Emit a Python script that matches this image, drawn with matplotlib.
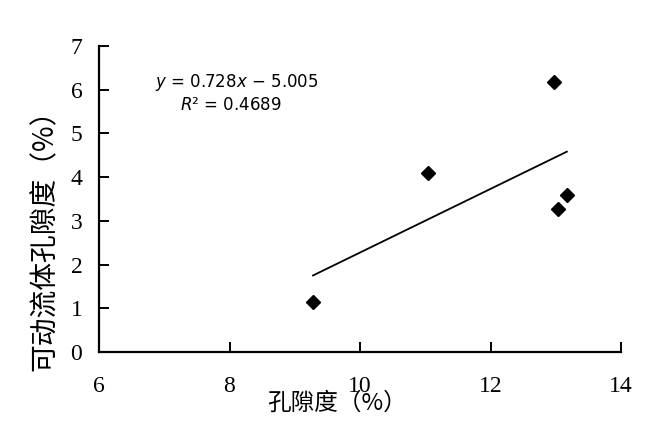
import matplotlib
matplotlib.use('Agg')
import numpy as np
import matplotlib.pyplot as plt

plt.rcParams['font.family'] = ['Liberation Serif', 'Noto Sans CJK SC']

# data
porosity = [9.28, 11.04, 12.98, 13.04, 13.17]
movable = [1.15, 4.10, 6.18, 3.27, 3.60]
slope = 0.728
intercept = -5.005
r2 = 0.4689
x_ticks = [6, 8, 10, 12, 14]
y_ticks = [0, 1, 2, 3, 4, 5, 6, 7]

fig = plt.figure(figsize=(6.57, 4.21), dpi=100)
ax = fig.add_axes([99/657, 1-352/421, (621-99)/657, (352-46)/421])

ax.plot(porosity, movable, linestyle='none', marker='D', markersize=7.5,
        color='black')

fit_x = np.array([min(porosity), max(porosity)])
ax.plot(fit_x, slope*fit_x + intercept, color='black', linewidth=1.3)

ax.set_xlim(6, 14)
ax.set_ylim(0, 7)
ax.set_xticks(x_ticks)
ax.set_yticks(y_ticks)
ax.spines['top'].set_visible(False)
ax.spines['right'].set_visible(False)
ax.spines['left'].set_linewidth(1.6)
ax.spines['bottom'].set_linewidth(1.6)
ax.tick_params(axis='x', direction='in', length=7, width=1.4, pad=17,
               labelsize=17)
ax.tick_params(axis='y', direction='in', length=7, width=1.4, pad=12,
               labelsize=17)

ax.text(0.264, 0.882, r'$y$ = 0.728$x$ $-$ 5.005', transform=ax.transAxes,
        ha='center', va='center', fontsize=12, family='DejaVu Sans')
ax.text(0.252, 0.807, r'$R$² = 0.4689', transform=ax.transAxes,
        ha='center', va='center', fontsize=12, family='DejaVu Sans')

fig.text(337/657, 1-403/421, '孔隙度（%）', ha='center', va='center',
         fontsize=17, family=['Noto Sans CJK SC', 'DejaVu Sans'])
fig.text(45/657, 1-233/421, '可动流体孔隙度（%）', ha='center', va='center',
         rotation=90, fontsize=20, family=['Noto Sans CJK SC', 'DejaVu Sans'])

fig.savefig('out.png', dpi=100, facecolor='white')
